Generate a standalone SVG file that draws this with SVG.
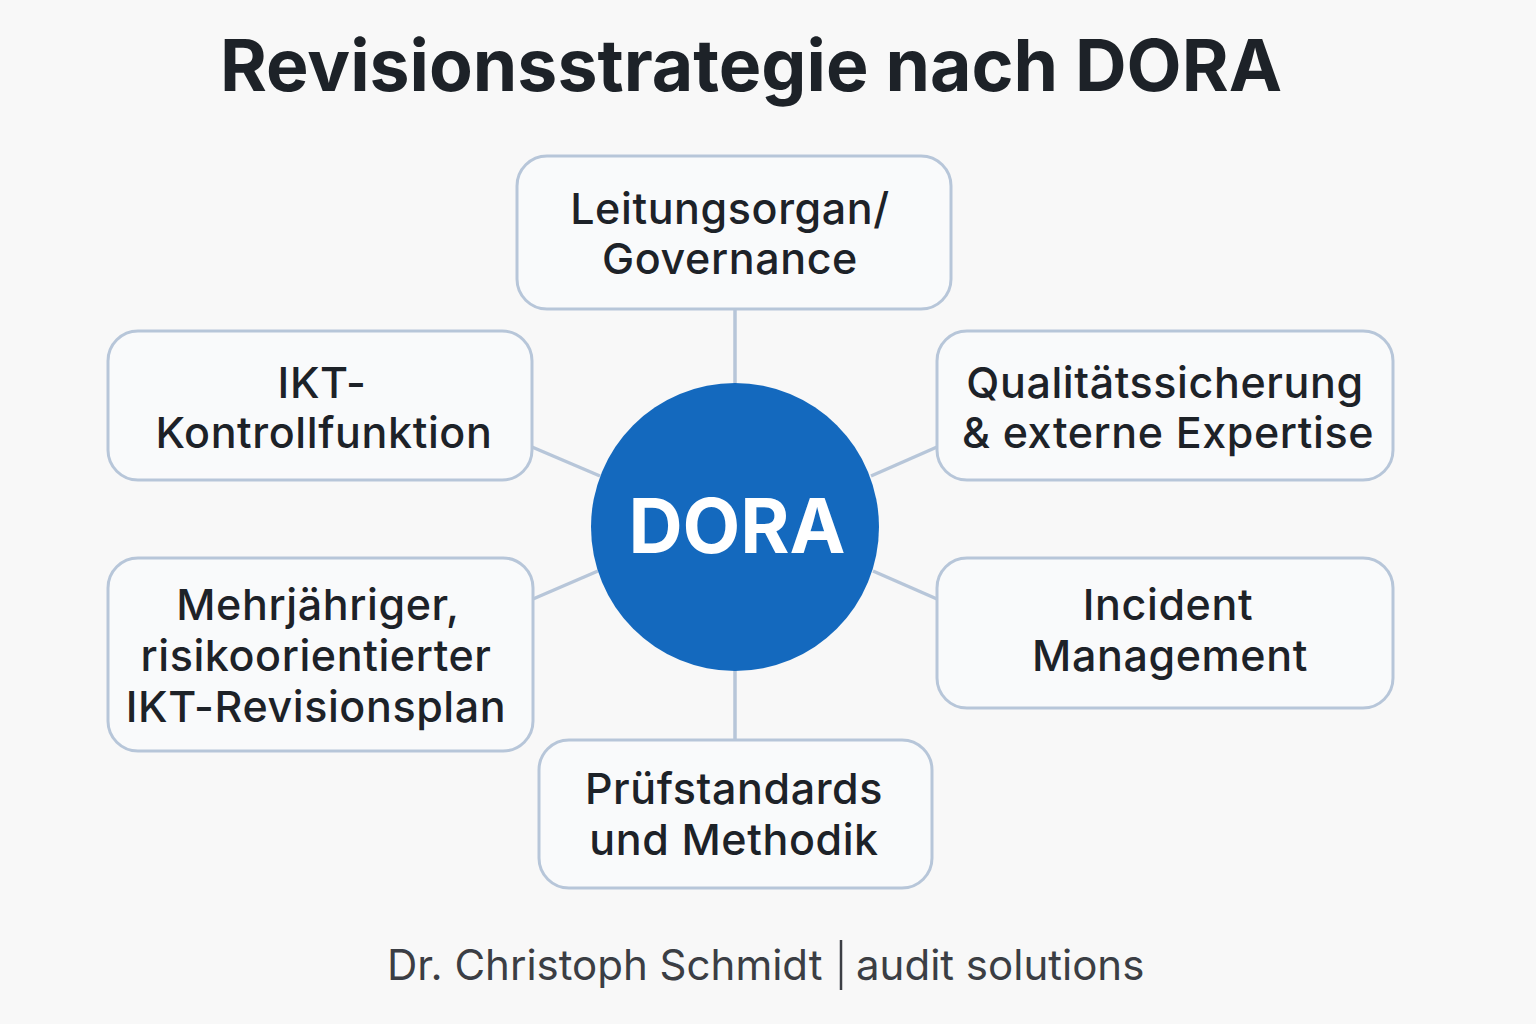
<svg xmlns="http://www.w3.org/2000/svg" width="1536" height="1024" viewBox="0 0 1536 1024">
<style>
.bg{fill:#f8f8f8}
.node rect{fill:#f9fafb;stroke:#b7c6d9;stroke-width:3}
.conn line{stroke:#b7c6d9;stroke-width:3.5}
.t{font-family:Inter,"Liberation Sans",sans-serif;font-size:43px;letter-spacing:0.6px;fill:#1d2228;text-anchor:middle;font-weight:500}
.title{font-family:Inter,"Liberation Sans",sans-serif;font-size:71.5px;font-weight:700;fill:#1d2228;text-anchor:middle}
.foot{font-family:Inter,"Liberation Sans",sans-serif;font-size:42px;fill:#3b3e44;font-weight:400}
.dora{font-family:Inter,"Liberation Sans",sans-serif;font-size:75px;font-weight:700;fill:#ffffff;text-anchor:middle}
</style>
<rect class="bg" x="0" y="0" width="1536" height="1024"/>
<text class="title" x="751" y="91">Revisionsstrategie nach DORA</text>
<g class="conn" id="connectors">
<line x1="735" y1="309" x2="735" y2="385"/>
<line x1="532" y1="447" x2="600" y2="476"/>
<line x1="937" y1="447" x2="871" y2="476"/>
<line x1="533" y1="599" x2="598" y2="571"/>
<line x1="937" y1="599" x2="873" y2="571"/>
<line x1="735" y1="669" x2="735" y2="740"/>
</g>
<g class="node" id="governance">
<rect x="517" y="156" width="434" height="153" rx="30"/>
<text class="t" x="730" y="224">Leitungsorgan/</text>
<text class="t" x="730" y="274">Governance</text>
</g>
<g class="node" id="ikt-kontrollfunktion">
<rect x="108" y="331" width="424" height="149" rx="30"/>
<text class="t" x="322" y="398">IKT-</text>
<text class="t" x="324" y="448">Kontrollfunktion</text>
</g>
<g class="node" id="qualitaetssicherung">
<rect x="937" y="331" width="456" height="149" rx="30"/>
<text class="t" x="1165" y="398">Qualitätssicherung</text>
<text class="t" x="1168" y="448">&amp; externe Expertise</text>
</g>
<g class="node" id="revisionsplan">
<rect x="108" y="558" width="425" height="193" rx="30"/>
<text class="t" x="318" y="620">Mehrjähriger,</text>
<text class="t" x="316" y="671">risikoorientierter</text>
<text class="t" x="316" y="722">IKT-Revisionsplan</text>
</g>
<g class="node" id="incident">
<rect x="937" y="558" width="456" height="150" rx="30"/>
<text class="t" x="1168" y="620">Incident</text>
<text class="t" x="1170" y="671">Management</text>
</g>
<g class="node" id="pruefstandards">
<rect x="539" y="740" width="393" height="148" rx="30"/>
<text class="t" x="734" y="804">Prüfstandards</text>
<text class="t" x="734" y="855">und Methodik</text>
</g>
<g id="dora">
<circle cx="735" cy="527" r="144" fill="#1469be"/>
<text class="dora" x="737" y="553">DORA</text>
</g>
<g id="footer">
<text class="foot" x="387" y="980">Dr. Christoph Schmidt</text>
<line x1="841" y1="940" x2="841" y2="990" stroke="#3b3e44" stroke-width="2.5"/>
<text class="foot" x="856" y="980">audit solutions</text>
</g>
</svg>
